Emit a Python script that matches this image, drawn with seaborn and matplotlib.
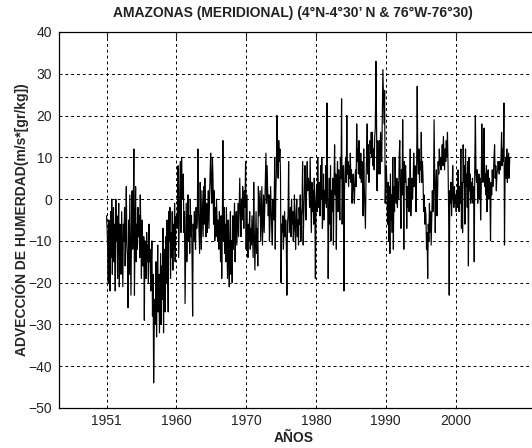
"""Advección de humedad meridional - Amazonas, serie mensual 1951-2008."""
import matplotlib
matplotlib.use("Agg")
import matplotlib.pyplot as plt
import numpy as np
import seaborn as sns

# monthly values (m/s*[gr/kg]), one row per year
vals_1951_1960 = [
    -4, -7, -12, -20, -5, -9, -22, -3, -14, 0, -18, -8,
    -2, -15, -6, -22, 0, -10, -4, -19, -8, -1, -21, -6,
    -8, -18, -3, -12, -21, -6, -10, -2, -16, -9, 3, -11,
    -14, -26, -5, -18, 1, -10, -23, -7, 2, -12, -4, 12,
    -23, -8, 3, -15, -6, -12, -2, -9, -4, -14, 1, -7,
    -19, -5, -10, -16, -9, -29, -10, -12, -19, -8, -15, -11,
    -20, -6, -15, -12, -22, -15, -10, -28, -18, -44, -31, -24,
    -30, -15, -33, -20, -11, -27, -18, -32, -22, -13, -30, -16,
    -24, -7, -32, -18, -12, -27, -9, -20, -5, -15, -27, -3,
    -10, -2, -19, -8, -14, -3, -17, -6, -12, -1, -15, -5,
]
vals_1961_1970 = [
    -4, -7, -2, 8, -14, -5, 3, 9, -8, 10, 0, 4,
    6, -8, -3, -25, -12, -1, -15, -6, 1, -10, -4, -13,
    0, -9, -4, -14, -28, -6, -10, -3, -8, -12, -2, -7,
    -5, 12, -2, -8, -13, 4, -6, -12, 2, -4, -9, 3,
    -6, 5, -3, -9, -1, -8, -4, 2, -7, 0, 6, 11,
    3, -1, 10, 5, -6, 2, -10, -2, -9, 0, -5, -10,
    -5, -12, -3, -8, -15, -4, -19, -7, 14, -10, -2, -13,
    -6, -15, -2, -10, -19, -5, -12, -21, -8, -3, -18, -10,
    -20, -4, -12, -7, -1, -15, -8, -3, -11, -6, -1, -9,
    -2, 5, -3, -9, 0, -5, 3, -1, -7, 2, -2, 9,
]
vals_1971_1980 = [
    -12, 1, -8, -14, -6, -10, -3, -12, -7, -11, -4, -9,
    -14, 4, -8, -17, -10, -3, -13, -7, -16, 3, -4, -1,
    2, -10, -3, 3, -11, -5, 1, -8, -2, 4, 11, -1,
    8, 2, -4, 1, -10, -6, 3, -2, -7, -11, 0, -4,
    -5, 10, -12, 2, 7, 20, 11, 5, 14, 9, 12, 6,
    -20, -6, -8, -4, -12, -7, -3, -9, -5, -11, -23, -6,
    -4, 9, -8, -5, -2, -9, 0, -6, -3, -10, -7, 1,
    -7, -12, -3, 0, -9, -5, -11, -2, -6, 1, -10, -4,
    -2, 9, -11, -4, 1, 8, 3, -5, 4, 9, 2, 5,
    3, -2, 10, 1, -8, 4, -3, 2, -6, 5, -1, -19,
]
vals_1981_1990 = [
    -1, 3, -3, 10, 1, -2, 4, -4, 8, 0, 10, -7,
    -3, 6, -5, 2, -1, 8, -2, 23, 4, -19, -4, 5,
    -6, 8, -10, 2, -3, 5, -11, 4, 13, 1, 6, -12,
    3, 9, -3, 7, 2, -5, 10, 5, 24, -6, 4, 8,
    -22, 2, 7, 10, 4, 20, 6, 9, 3, 8, 5, 11,
    4, 7, -1, 3, 6, 2, -1, 5, 7, 3, 18, 9,
    12, 6, 14, 8, 5, 11, 4, 9, 7, -4, 12, 3,
    -2, -7, 5, 10, 18, 6, 13, 4, 8, 14, 11, 16,
    10, 16, 8, 12, 7, 15, 17, 33, 20, 2, 14, 6,
    8, 14, 6, 16, 11, 9, 20, 31, 24, 18, 26, -1,
]
vals_1991_2000 = [
    5, 8, 2, -6, 4, -10, 3, -13, 6, -5, 1, -8,
    10, -12, 3, -3, 10, 2, -1, 5, -2, 4, 0, 10,
    14, 2, -7, 7, 1, 19, 6, -12, 9, 4, 8, 3,
    -7, 3, -2, 5, -3, 1, 12, -4, 2, 5, 0, 4,
    11, 3, 8, 5, -3, 7, 27, 10, 6, 12, 4, 9,
    7, 16, 4, 9, 5, -3, 1, -6, -2, -4, -12, -8,
    -19, -6, -10, -1, -8, -3, -11, -5, 2, -3, 1, 19,
    6, -8, 3, 7, -4, 1, 9, 6, 12, 8, 10, 7,
    9, 13, 8, 15, 11, 7, 12, 9, 14, 10, 16, 8,
    -3, -23, 2, -1, 4, -4, 1, 8, 0, -2, 3, -1,
]
vals_2001_2008 = [
    1, -3, 2, -2, 7, 0, -3, 3, -1, 12, -7, 4,
    -8, 13, 4, 8, -6, 12, 3, 6, -2, 9, -16, 10,
    2, 6, -1, 4, 0, 5, -1, 3, -15, 9, 20, 6,
    4, 7, -1, 3, 6, 0, 5, -5, 2, 18, 8, 4,
    9, 17, 3, 6, 1, 8, -3, 4, 7, 0, 5, 2,
    -10, 4, 1, 7, 3, 6, 10, 13, 5, 8, 2, 6,
    7, 9, 8, 6, 9, 7, 10, 16, 8, 12, 9, 23,
    -11, 6, 10, 5, 12, 4, 8, 11, 5, 10,
]

year_labels = ["1951", "1960", "1970", "1980", "1990", "2000"]
y_ticks = [40, 30, 20, 10, 0, -10, -20, -30, -40, -50]

adveccion = np.array(vals_1951_1960 + vals_1961_1970 + vals_1971_1980
                     + vals_1981_1990 + vals_1991_2000 + vals_2001_2008, dtype=float)
meses = np.arange(len(adveccion))

sns.set_style("white")
plt.rcParams.update({
    "font.family": ["Liberation Sans", "DejaVu Sans"],
    "font.size": 10,
    "text.color": "#222222",
    "xtick.color": "#222222",
    "ytick.color": "#222222",
})

fig = plt.figure(figsize=(5.32, 4.48), dpi=100)
ax = fig.add_axes([0.110, 0.0893, 0.905, 0.8393])

sns.lineplot(x=meses, y=adveccion, ax=ax, color="black", linewidth=0.85,
             estimator=None)

ax.set_xlim(-82.5, 745)
ax.set_ylim(-50, 40)
ax.set_xticks(np.arange(len(year_labels)) * 120)
ax.set_xticklabels(year_labels)
ax.set_yticks(y_ticks)

ax.grid(True, color="black", linestyle=(0, (3, 3)), linewidth=0.7)
ax.tick_params(direction="in", length=4, width=0.8, top=True, right=True,
               labelsize=10, pad=4.5)
for sp in ax.spines.values():
    sp.set_color("black")
    sp.set_linewidth(0.9)

ax.set_xlabel("")
ax.set_ylabel("ADVECCIÓN DE HUMERDAD(m/s*[gr/kg])", fontsize=10,
              fontweight="bold")
ax.yaxis.set_label_coords(-0.062, 0.5)

fig.text(293 / 532, 1 - 13 / 448, "AMAZONAS (MERIDIONAL) (4°N-4°30’ N & 76°W-76°30)",
         ha="center", va="center", fontsize=10, fontweight="bold")
fig.text(294 / 532, 1 - 438 / 448, "AÑOS", ha="center", va="center",
         fontsize=10, fontweight="bold")

fig.savefig("out.png", dpi=100)
